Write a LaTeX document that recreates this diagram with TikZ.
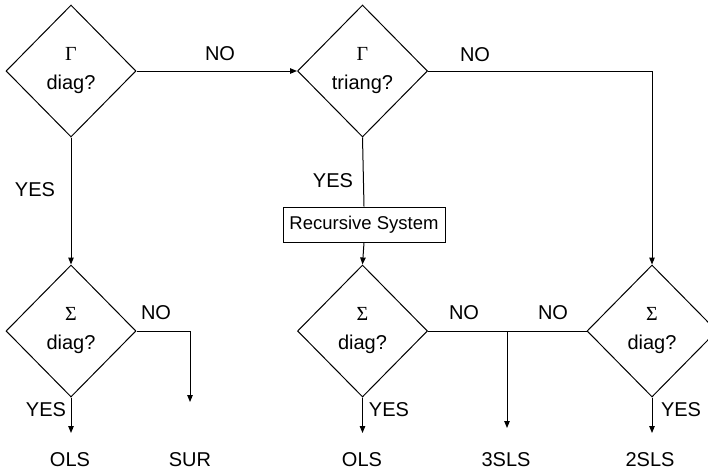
\documentclass[tikz,border=0pt]{standalone}
\usepackage{fontspec}
\setmainfont{Liberation Sans}
\newfontfamily\greekfont{Liberation Serif}
\usetikzlibrary{shapes,arrows,positioning,calc,arrows.meta}

\begin{document}
\begin{tikzpicture}[x=1pt,y=-1pt,
    test/.style={diamond, draw, line width=1pt, minimum width=130pt, minimum height=132pt,
        inner sep=0pt, align=center, font=\fontsize{20}{29}\selectfont},
    box/.style={draw, line width=1pt, minimum width=162pt, minimum height=35pt, inner sep=0pt,
        font=\fontsize{18.5}{20}\selectfont},
    lbl/.style={font=\fontsize{20}{22}\selectfont},
    arr/.style={-{Triangle[length=7pt,width=5.5pt]}, line width=1pt},
    wire/.style={line width=1pt}]
    \useasboundingbox (0,0) rectangle (708,474);

    % decisions
    \node[test] (gdiag) at (71,71) {{\greekfont Γ}\\diag?};
    \node[test] (gtri) at (362.5,71) {{\greekfont Γ}\\triang?};
    \node[test] (sdiag1) at (71,331) {{\greekfont Σ}\\diag?};
    \node[test] (sdiag2) at (362.5,331) {{\greekfont Σ}\\diag?};
    \node[test] (sdiag3) at (652,331) {{\greekfont Σ}\\diag?};
    \node[box] (rec) at (364,224.5) {Recursive System};

    % outcomes
    \node[lbl] (ols1) at (70,460) {OLS};
    \node[lbl] (sur) at (190,460) {SUR};
    \node[lbl] (ols2) at (362,460) {OLS};
    \node[lbl] (tsls) at (506,460) {3SLS};
    \node[lbl] (ssls) at (650,460) {2SLS};
    \coordinate (e1) at (71,433);
    \coordinate (e2) at (190,402);
    \coordinate (e3) at (362.5,433);
    \coordinate (j) at (507,331);
    \coordinate (e4) at (507,428);
    \coordinate (e5) at (652,433);

    % connectors
    \draw[arr] (gdiag.east) -- (gtri.west);
    \draw[arr] (gdiag.south) -- (sdiag1.north);
    \draw[wire] (gtri.south) -- (rec.north);
    \draw[arr] (rec.south) -- (sdiag2.north);
    \draw[arr] (gtri.east) -| (sdiag3.north);
    \draw[arr] (sdiag1.east) -| (e2);
    \draw[arr] (sdiag1.south) -- (e1);
    \draw[arr] (sdiag2.south) -- (e3);
    \draw[wire] (sdiag2.east) -- (sdiag3.west);
    \draw[arr] (j) -- (e4);
    \draw[arr] (sdiag3.south) -- (e5);

    % answers
    \node[lbl] (no1) at (220,54) {NO};
    \node[lbl] (no2) at (475,55) {NO};
    \node[lbl] (yes1) at (35,190) {YES};
    \node[lbl] (yes2) at (333,181) {YES};
    \node[lbl] (no3) at (156,313) {NO};
    \node[lbl] (no4) at (464,313) {NO};
    \node[lbl] (no5) at (553,313) {NO};
    \node[lbl] (yes3) at (46,410) {YES};
    \node[lbl] (yes4) at (389,410) {YES};
    \node[lbl] (yes5) at (681,410) {YES};
\end{tikzpicture}
\end{document}
